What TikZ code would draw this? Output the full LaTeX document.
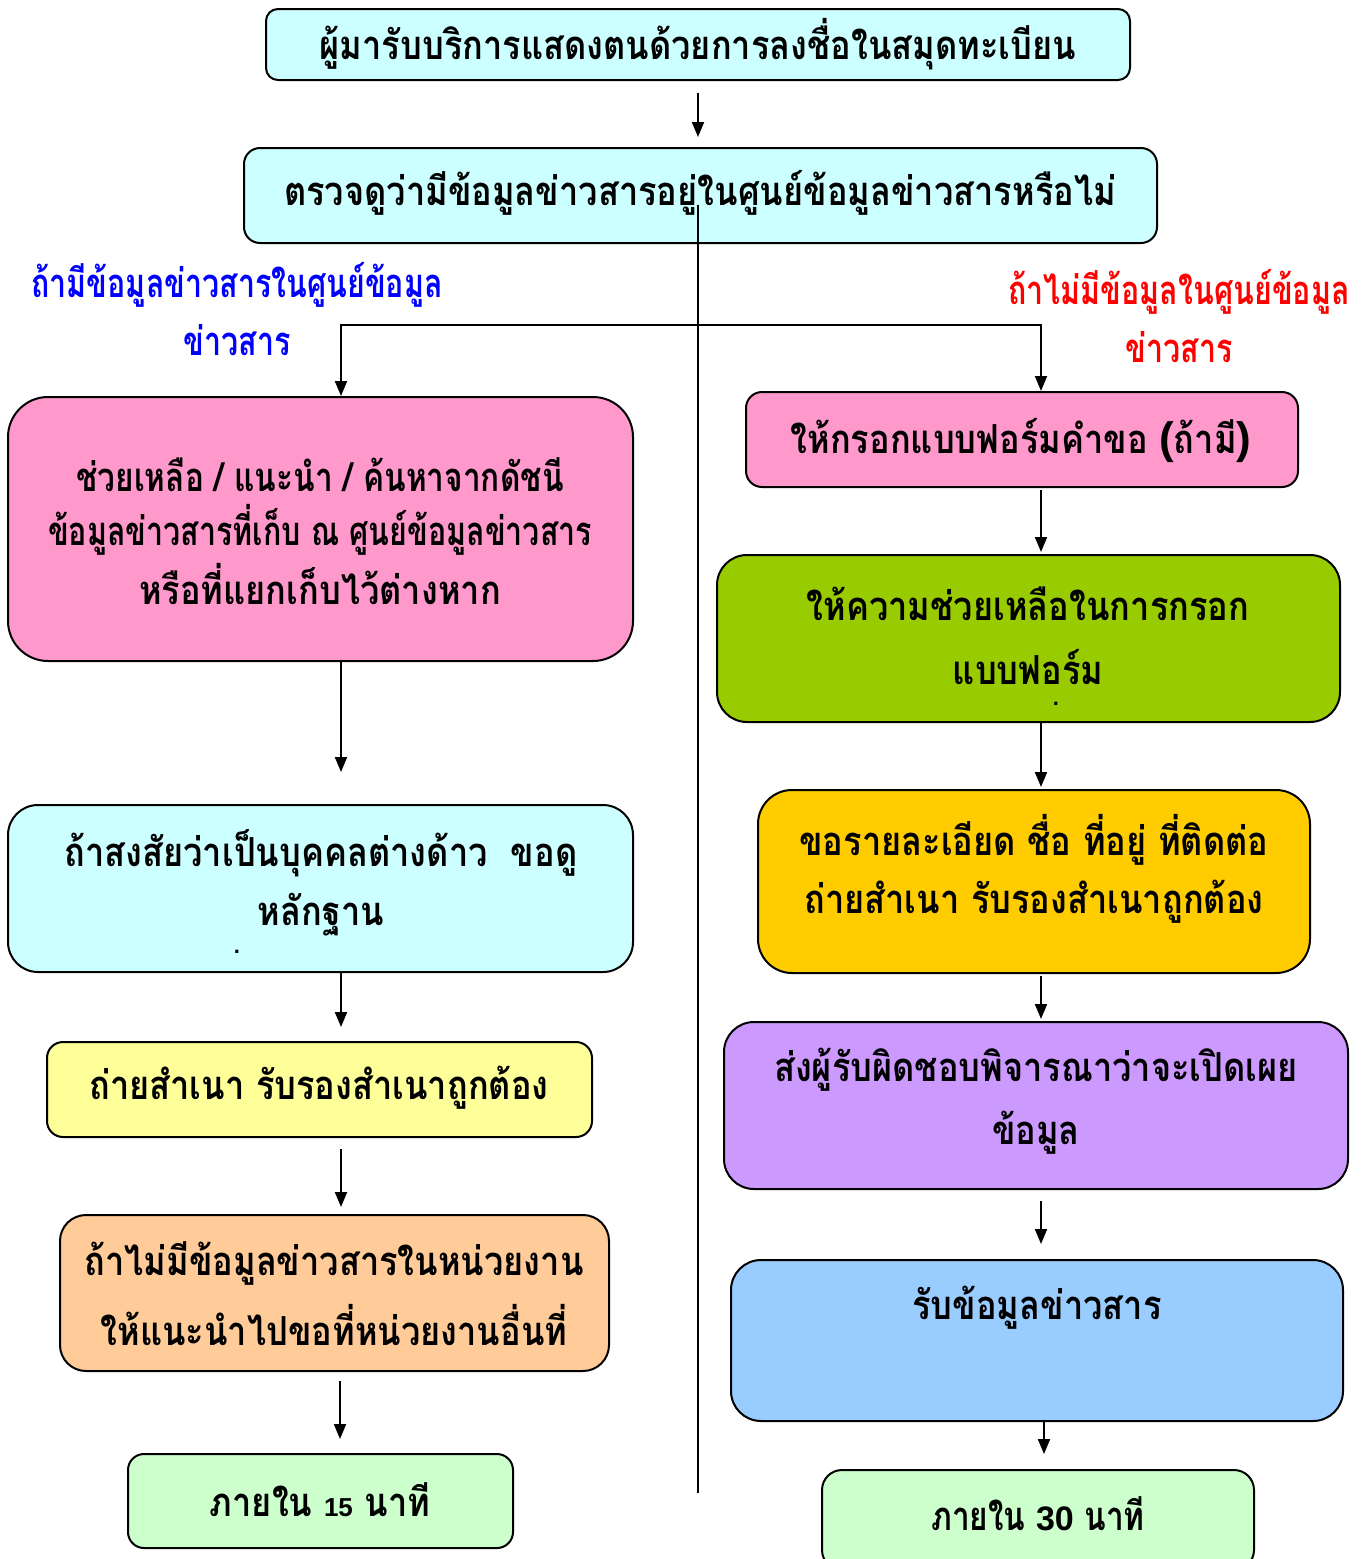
\documentclass[tikz,border=0pt]{standalone}
\usepackage{fontspec}
\usetikzlibrary{arrows.meta,calc}
\newfontfamily\thai[Script=Thai,FakeStretch=0.86]{Loma}
\newfontfamily\thain[Script=Thai,FakeStretch=0.76]{Loma}
\newfontfamily\thaim[Script=Thai,FakeStretch=0.79]{Loma}
\newfontfamily\numfont{Liberation Sans}
\definecolor{cyanl}{HTML}{CCFFFF}
\definecolor{pinkb}{HTML}{FF99CC}
\definecolor{yellowb}{HTML}{FFFF99}
\definecolor{peachb}{HTML}{FFCC99}
\definecolor{greenl}{HTML}{CCFFCC}
\definecolor{greenb}{HTML}{99CC00}
\definecolor{goldb}{HTML}{FFCC00}
\definecolor{purpleb}{HTML}{CC99FF}
\definecolor{blueb}{HTML}{99CCFF}
\tikzset{
  box/.style={draw=black, line width=1pt, inner sep=0pt},
  txt/.style={font=\thai\bfseries\fontsize{20pt}{24pt}\selectfont, inner sep=0pt, anchor=center},
  txtn/.style={font=\thain\bfseries\fontsize{20pt}{24pt}\selectfont, inner sep=0pt, anchor=center},
  txtm/.style={font=\thaim\bfseries\fontsize{20pt}{24pt}\selectfont, inner sep=0pt, anchor=center},
  dotmark/.style={font=\numfont\bfseries\fontsize{11pt}{12pt}\selectfont, inner sep=0pt, text height=1.5pt, text depth=0pt},
  arr/.style={line width=1pt, -{Triangle[length=7.5pt,width=6pt]}},
  ln/.style={line width=1pt}
}
\begin{document}
\begin{tikzpicture}[x=0.5pt,y=-0.5pt]
\useasboundingbox (0,0) rectangle (1365,1559);
% boxes
\node[box, fill=cyanl, rounded corners=6pt, minimum width=432pt, minimum height=35.5pt] (b1) at (698,44.5) {};
\node[box, fill=cyanl, rounded corners=8pt, minimum width=456.5pt, minimum height=47.5pt] (b2) at (700.5,195.5) {};
\node[box, fill=pinkb, rounded corners=20pt, minimum width=312.5pt, minimum height=132pt] (L1) at (320.5,529) {};
\node[box, fill=cyanl, rounded corners=15pt, minimum width=312.5pt, minimum height=83.5pt] (L2) at (320.5,888.5) {};
\node[box, fill=yellowb, rounded corners=8pt, minimum width=272.5pt, minimum height=47.5pt] (L3) at (319.5,1089.5) {};
\node[box, fill=peachb, rounded corners=13pt, minimum width=274.5pt, minimum height=78pt] (L4) at (334.5,1293) {};
\node[box, fill=greenl, rounded corners=8pt, minimum width=192.5pt, minimum height=47pt] (L5) at (320.5,1501) {};
\node[box, fill=pinkb, rounded corners=8pt, minimum width=276pt, minimum height=47.5pt] (R1) at (1022,439.5) {};
\node[box, fill=greenb, rounded corners=15pt, minimum width=311.5pt, minimum height=83.5pt] (R2) at (1028.5,638.5) {};
\node[box, fill=goldb, rounded corners=17pt, minimum width=276pt, minimum height=91.5pt] (R3) at (1034,881.5) {};
\node[box, fill=purpleb, rounded corners=15pt, minimum width=312pt, minimum height=83.5pt] (R4) at (1036,1105.5) {};
\node[box, fill=blueb, rounded corners=15pt, minimum width=306pt, minimum height=80.5pt] (R5) at (1037,1340.5) {};
\node[box, fill=greenl, rounded corners=10pt, minimum width=216pt, minimum height=50pt] (R6) at (1038,1520) {};
% texts
\node[txt] (t1) at (698,44) {ผู้มารับบริการแสดงตนด้วยการลงชื่อในสมุดทะเบียน};
\node[txt] (t2) at (700,193) {ตรวจดูว่ามีข้อมูลข่าวสารอยู่ในศูนย์ข้อมูลข่าวสารหรือไม่};
\node[txtn, text=blue] (yes1) at (237,285) {ถ้ามีข้อมูลข่าวสารในศูนย์ข้อมูล};
\node[txtn, text=blue] (yes2) at (237,340) {ข่าวสาร};
\node[txtn, text=red] (no1) at (1179,292) {ถ้าไม่มีข้อมูลในศูนย์ข้อมูล};
\node[txtn, text=red] (no2) at (1179,347) {ข่าวสาร};
\node[txtm] (l1a) at (320,475) {ช่วยเหลือ / แนะนำ / ค้นหาจากดัชนี};
\node[txtn] (l1b) at (320,530) {ข้อมูลข่าวสารที่เก็บ ณ ศูนย์ข้อมูลข่าวสาร};
\node[txt] (l1c) at (320,584) {หรือที่แยกเก็บไว้ต่างหาก};
\node[txt] (l2a) at (321,853) {ถ้าสงสัยว่าเป็นบุคคลต่างด้าว\ \ ขอดู};
\node[txt] (l2b) at (321,915) {หลักฐาน};
\node[dotmark] (l2c) at (237,952) {.};
\node[txt] (l3) at (319,1088) {ถ่ายสำเนา รับรองสำเนาถูกต้อง};
\node[txt] (l4a) at (334,1263) {ถ้าไม่มีข้อมูลข่าวสารในหน่วยงาน};
\node[txt] (l4b) at (334,1325) {ให้แนะนำไปขอที่หน่วยงานอื่นที่};
\node[txt] (l5) at (320,1500) {ภายใน {\numfont\bfseries\fontsize{13pt}{15pt}\selectfont 15} นาที};
\node[txt] (r1) at (1021,440) {ให้กรอกแบบฟอร์มคำขอ {\numfont\bfseries\fontsize{22pt}{24pt}\selectfont (}ถ้ามี{\numfont\bfseries\fontsize{22pt}{24pt}\selectfont )}};
\node[txt] (r2a) at (1028,604) {ให้ความช่วยเหลือในการกรอก};
\node[txt] (r2b) at (1028,667) {แบบฟอร์ม};
\node[dotmark] (r2c) at (1056,704) {.};
\node[txt] (r3a) at (1034,840) {ขอรายละเอียด ชื่อ ที่อยู่ ที่ติดต่อ};
\node[txt] (r3b) at (1034,902) {ถ่ายสำเนา รับรองสำเนาถูกต้อง};
\node[txt] (r4a) at (1036,1070) {ส่งผู้รับผิดชอบพิจารณาว่าจะเปิดเผย};
\node[txt] (r4b) at (1036,1133) {ข้อมูล};
\node[txt] (r5) at (1037,1308) {รับข้อมูลข่าวสาร};
\node[txtm] (r6) at (1038,1514) {ภายใน {\numfont\bfseries\fontsize{17pt}{19pt}\selectfont 30} นาที};
% coordinates
\coordinate (xl) at (341,0);
\coordinate (xr) at (1041,0);
\coordinate (vstart) at (698,205);
\coordinate (vend) at (698,1493);
\coordinate (br) at (698,325);
% connectors
\draw[arr, shorten <=6pt, shorten >=5pt] (b1.south) -- (b2.north -| b1.south);
\draw[ln] (vstart) -- (vend);
\draw[arr] (br) -| (L1.north -| xl);
\draw[arr] (br) -| (R1.north -| xr);
\draw[arr, shorten >=16pt] (L1.south -| xl) -- (L2.north -| xl);
\draw[arr, shorten >=7pt] (L2.south -| xl) -- (L3.north -| xl);
\draw[arr, shorten <=5.5pt, shorten >=3.5pt] (L3.south -| xl) -- (L4.north -| xl);
\draw[arr, shorten <=4.5pt, shorten >=7pt] ([xshift=-0.5pt]L4.south -| xl) -- ([xshift=-0.5pt]L5.north -| xl);
\draw[arr, shorten <=1pt, shorten >=1pt] (R1.south -| xr) -- (R2.north -| xr);
\draw[arr, shorten >=1pt] (R2.south -| xr) -- (R3.north -| xr);
\draw[arr, shorten <=1pt, shorten >=1pt] (R3.south -| xr) -- (R4.north -| xr);
\draw[arr, shorten <=5.5pt, shorten >=7.5pt] (R4.south -| xr) -- (R5.north -| xr);
\draw[arr, shorten >=7.5pt] ([xshift=1.5pt]R5.south -| xr) -- ([xshift=1.5pt]R6.north -| xr);
\end{tikzpicture}
\end{document}
